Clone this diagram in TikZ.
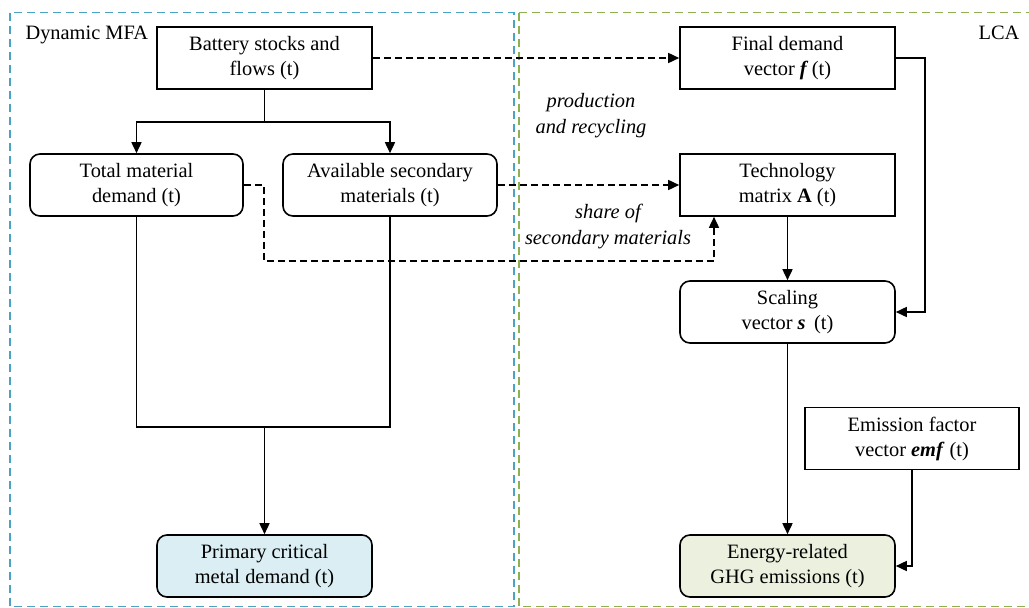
\documentclass[tikz,border=0pt]{standalone}
\usepackage{fontspec}
\setmainfont{Liberation Serif}
\usetikzlibrary{arrows.meta}
\definecolor{mfaline}{HTML}{4BA3C3}
\definecolor{lcaline}{HTML}{8FB050}
\definecolor{mfafill}{HTML}{DAEEF3}
\definecolor{lcafill}{HTML}{EBF1DE}
\tikzset{
  box/.style={draw=black, line width=1.6pt, minimum width=215pt, minimum height=62pt,
    align=center, inner sep=2pt},
  rbox/.style={box, rounded corners=10pt},
  arr/.style={line width=1.6pt, -{Triangle[length=11pt,width=10pt]}},
  plain/.style={line width=1.6pt},
  darr/.style={arr, dash pattern=on 7pt off 4pt},
  lbl/.style={align=center, font=\fontsize{20.4pt}{26pt}\selectfont\itshape},
  region/.style={line width=1.5pt, dash pattern=on 8pt off 5pt},
}
\begin{document}
\begin{tikzpicture}[x=1pt, y=-1pt, font=\fontsize{20.4pt}{25pt}\selectfont]
\useasboundingbox (0,0) rectangle (1029,608);

% the two study regions
\draw[region, lcaline] (519,12.5) rectangle (1034,606.5);
\draw[region, mfaline] (10,12.5) rectangle (514,606.5);
\node[anchor=base west] (mfa) at (22,39) {Dynamic MFA};
\node[anchor=base east] (lca) at (1023,39) {LCA};

% MFA side
\node[box]  (bat) at (264.5,58)  {Battery stocks and\\flows (t)};
\node[rbox, minimum width=213pt] (tot) at (136.5,185) {Total material\\demand (t)};
\node[rbox, minimum width=214pt] (ava) at (390,185)   {Available secondary\\materials (t)};
\node[rbox, fill=mfafill] (pri) at (264.5,566) {Primary critical\\metal demand (t)};

% LCA side
\node[box]  (fin) at (787.5,58)  {Final demand\\vector \textbf{\textit{f}}\,(t)};
\node[box]  (tec) at (787.5,185) {Technology\\matrix \textbf{A} (t)};
\node[rbox] (sca) at (787.5,312) {Scaling\\vector \textbf{\textit{s}}\, (t)};
\node[box, minimum width=214pt] (emi) at (912,438.5) {Emission factor\\vector \textbf{\textit{emf}} (t)};
\node[rbox, fill=lcafill] (ene) at (787.5,566) {Energy-related\\GHG emissions (t)};

% flows inside the MFA
\coordinate (fork)  at (264.5,122);
\coordinate (merge) at (264.5,427);
\draw[plain] (bat.south) -- (fork);
\draw[arr] (fork) -| (tot.north);
\draw[arr] (fork) -| (ava.north);
\draw[plain] (tot.south) |- (merge);
\draw[plain] (ava.south) |- (merge);
\draw[arr] (merge) -- (pri.north);

% links from MFA to LCA
\draw[darr] (bat.east) -- (fin.west);
\node[lbl] (lprod) at (591,116) {production\\and recycling};
\draw[darr] (ava.east) -- (tec.west);
\node[lbl] (lshare) at (608,227) {share of\\secondary materials};
\coordinate (dturn) at (264,261);
\draw[darr] (tot.east) -| (dturn) -| ([xshift=-73.5pt]tec.south);

% flows inside the LCA
\draw[arr] (tec.south) -- (sca.north);
\draw[arr] (fin.east) -| ([xshift=29pt]sca.east) -- (sca.east);
\draw[arr] (sca.south) -- (ene.north);
\draw[arr] (emi.south) |- (ene.east);
\end{tikzpicture}
\end{document}
